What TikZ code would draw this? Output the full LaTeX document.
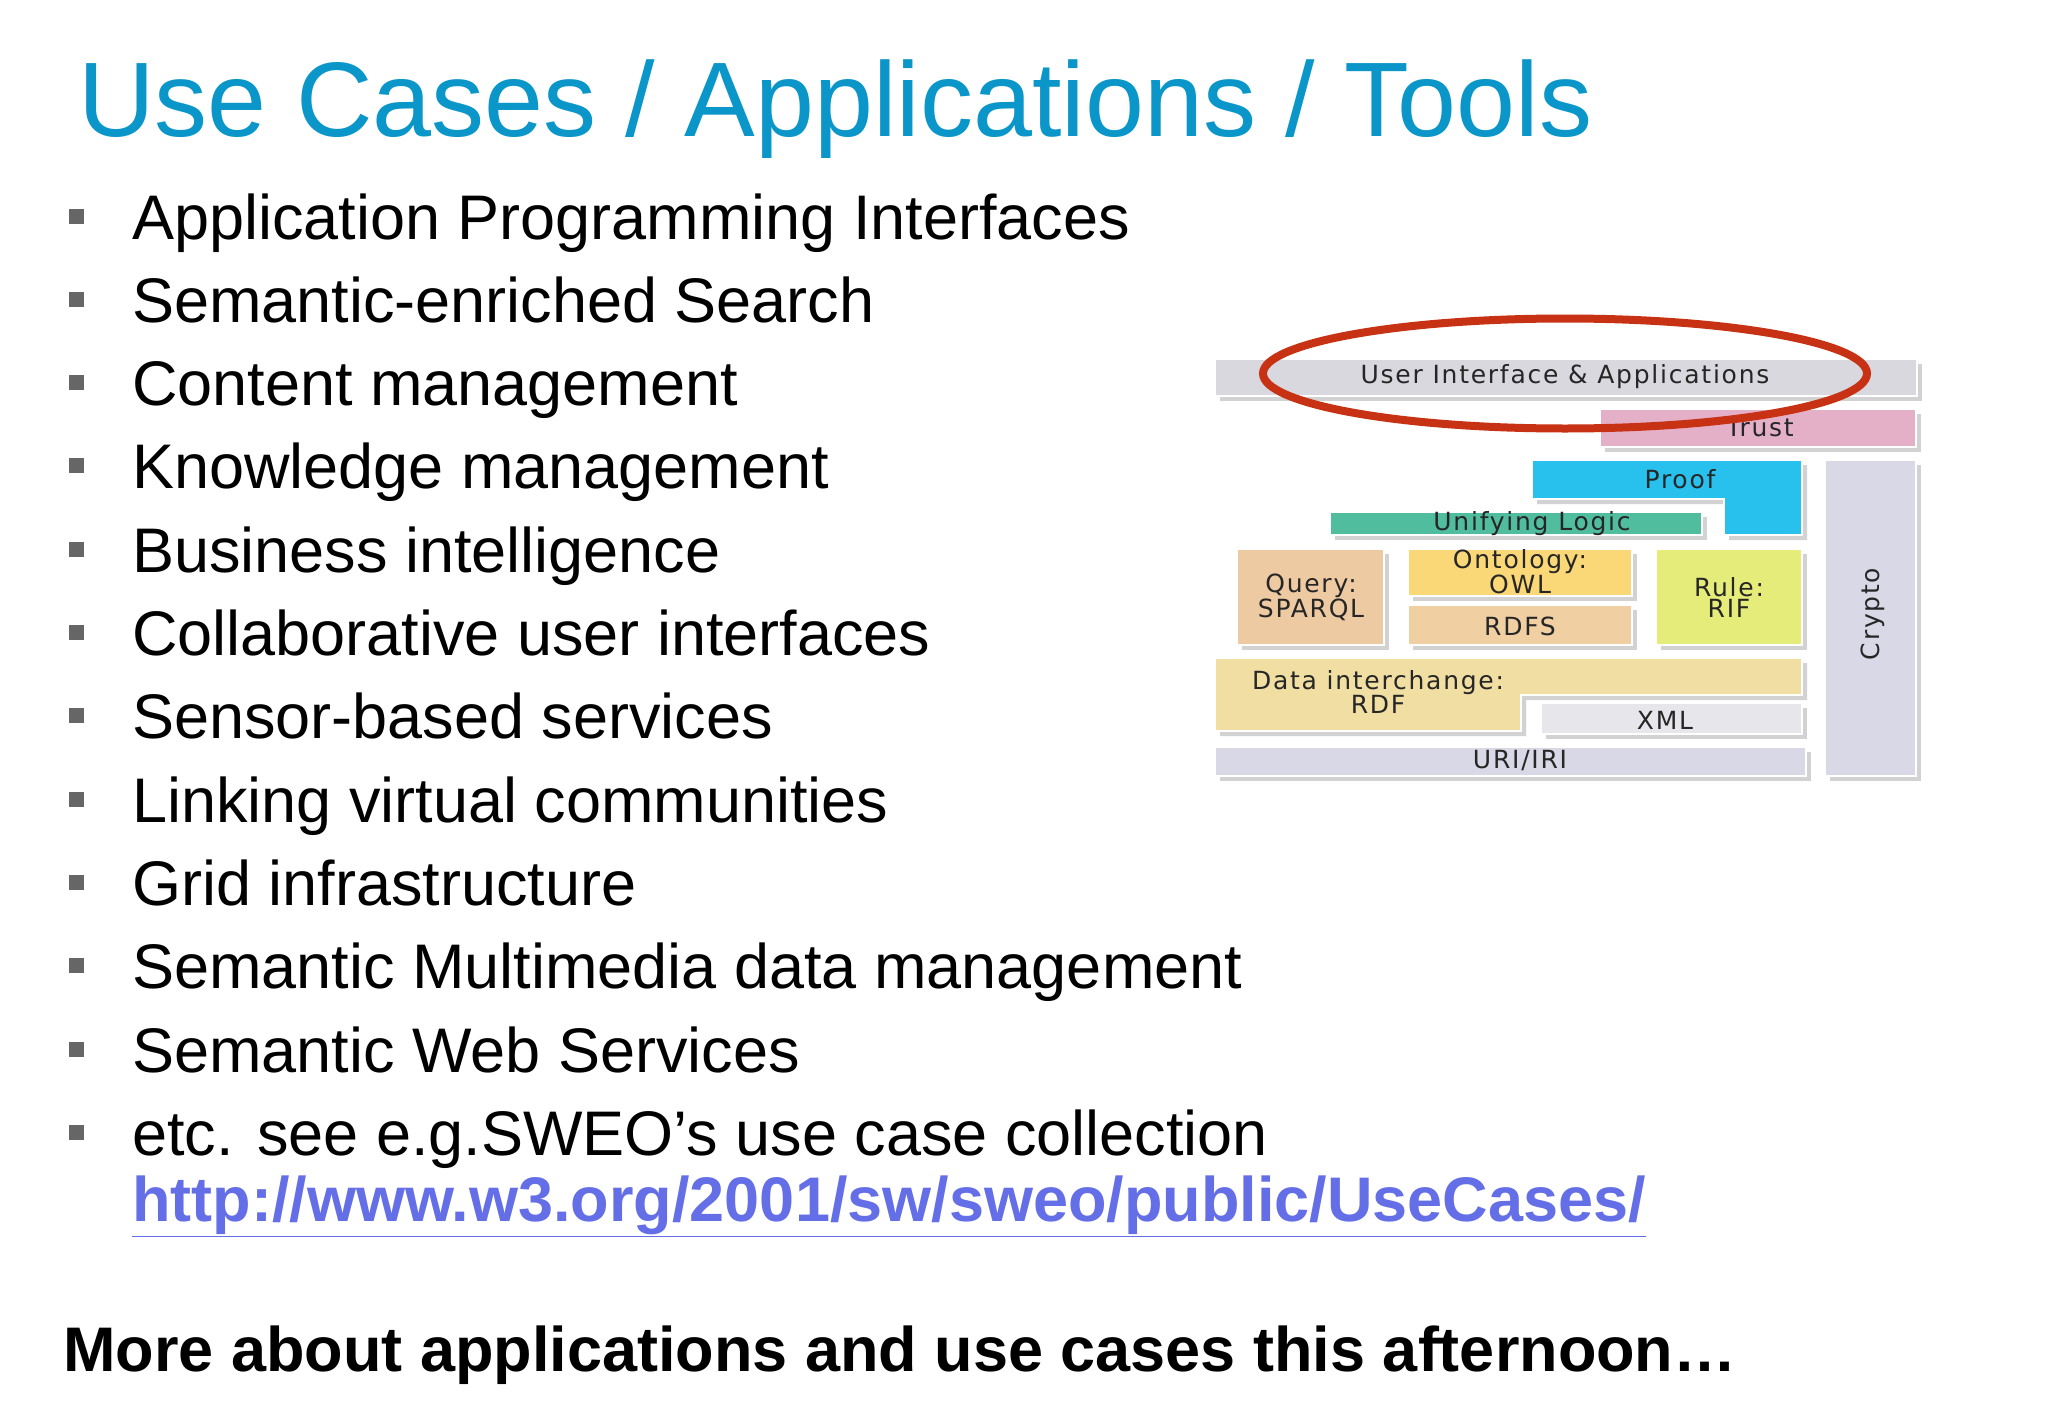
\documentclass[tikz,border=0pt]{standalone}
\usepackage{fontspec}
\setmainfont{Liberation Sans}
\newfontfamily\djvfont{DejaVu Sans}[LetterSpace=7]
\usetikzlibrary{shadows}
\definecolor{ttl}{RGB}{10,150,200}
\definecolor{url}{RGB}{100,110,230}
\definecolor{ered}{RGB}{200,50,20}
\begin{document}
\begin{tikzpicture}[x=1pt,y=-1pt,
  lay/.style={draw=white,line width=1.5pt,drop shadow={shadow xshift=5pt,shadow yshift=-5pt,opacity=.35}},
  lbl/.style={font=\djvfont\fontsize{25}{21}\selectfont,text=black!85,align=center,inner sep=0pt},
  item/.style={anchor=base west,inner sep=0pt,font=\fontsize{63}{80}\selectfont},
  bul/.style={fill=black!60,minimum size=15pt,inner sep=0pt}]
\useasboundingbox (0,0) rectangle (2048,1418);
\fill[white] (0,0) rectangle (2048,1418);
\node[anchor=base west,inner sep=0pt,text=ttl,font=\fontsize{106}{120}\selectfont] (title) at (78,137) {Use Cases / Applications / Tools};
\foreach \t [count=\i from 0] in {Application Programming Interfaces,Semantic-enriched Search,Content management,Knowledge management,Business intelligence,Collaborative user interfaces,Sensor-based services,Linking virtual communities,Grid infrastructure,Semantic Multimedia data management,Semantic Web Services,etc. see e.g.SWEO’s use case collection}{
  \node[item] (it\i) at (132,239+83.3*\i) {\t};
  \node[bul] (b\i) at (76,239+83.3*\i-23) {};
}
\node[item,font=\bfseries\fontsize{63}{80}\selectfont,text=url] (url) at (132,1221) {\underline{http://www.w3.org/2001/sw/sweo/public/UseCases/}};
\node[item,font=\bfseries\fontsize{63}{80}\selectfont] (more) at (63,1371) {More about applications and use cases this afternoon…};
% stack
\path[lay,fill={rgb,255:red,216;green,216;blue,222}] (1215,359) rectangle (1917,396);
\path[lay,fill={rgb,255:red,228;green,176;blue,200}] (1600,409) rectangle (1916,447);
\path[lay,fill={rgb,255:red,216;green,216;blue,230}] (1825,460) rectangle (1916,776);
\path[lay,fill={rgb,255:red,40;green,192;blue,236}] (1532,460) -- (1802,460) -- (1802,535) -- (1724,535) -- (1724,499) -- (1532,499) -- cycle;
\path[lay,fill={rgb,255:red,80;green,190;blue,158}] (1330,512) rectangle (1702,535);
\path[lay,fill={rgb,255:red,238;green,202;blue,162}] (1237,549) rectangle (1384,645);
\path[lay,fill={rgb,255:red,250;green,216;blue,120}] (1408,549) rectangle (1632,596);
\path[lay,fill={rgb,255:red,240;green,208;blue,162}] (1408,605) rectangle (1632,645);
\path[lay,fill={rgb,255:red,230;green,236;blue,122}] (1656,549) rectangle (1802,645);
\path[lay,fill={rgb,255:red,240;green,222;blue,162}] (1215,658) -- (1802,658) -- (1802,695) -- (1521,695) -- (1521,731) -- (1215,731) -- cycle;
\path[lay,fill={rgb,255:red,230;green,230;blue,235}] (1541,703) rectangle (1802,734);
\path[lay,fill={rgb,255:red,216;green,216;blue,230}] (1215,747) rectangle (1806,776);
\node[lbl] (ui) at (1565,377) {User Interface \& Applications};
\node[lbl] (trust) at (1760,428) {Trust};
\node[lbl,rotate=90] (crypto) at (1873,614) {Crypto};
\node[lbl] (proof) at (1680,479) {Proof};
\node[lbl] (ul) at (1532,524) {Unifying Logic};
\node[lbl] (q) at (1311,597) {Query:\\SPARQL};
\node[lbl] (owl) at (1520,572) {Ontology:\\OWL};
\node[lbl] (rdfs) at (1520,626) {RDFS};
\node[lbl] (rif) at (1729,597) {Rule:\\RIF};
\node[lbl] (rdf) at (1378,692) {Data interchange:\\RDF};
\node[lbl] (xml) at (1665,720) {XML};
\node[lbl] (uri) at (1520,761) {URI/IRI};
\draw[ered,line width=8pt] (1565,373.5) ellipse [x radius=302,y radius=55];
\end{tikzpicture}
\end{document}
